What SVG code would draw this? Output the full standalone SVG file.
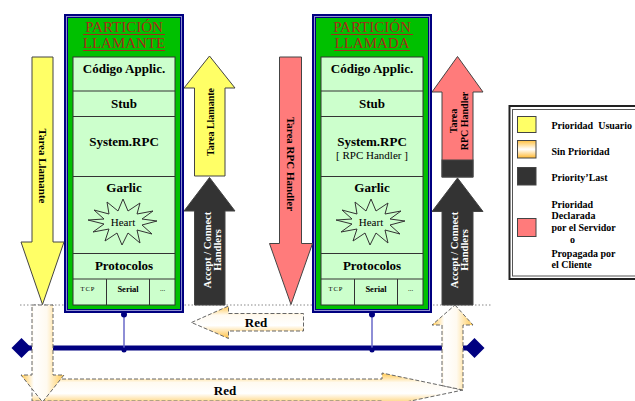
<svg xmlns="http://www.w3.org/2000/svg" width="635" height="401" viewBox="0 0 635 401" font-family="'Liberation Serif','DejaVu Serif',serif">
<style>
text{font-family:"Liberation Serif","DejaVu Serif",serif}
.t{fill:#000;text-anchor:middle}
.b{font-weight:bold}
.title{font-size:15px;fill:#a52a1a;text-anchor:middle}
.ul{stroke:#a52a1a;stroke-width:1}
.ar{stroke:#444;stroke-width:1}
.red{stroke:#666;stroke-width:1;stroke-dasharray:4 2}
.row{stroke:#333;stroke-width:1;fill:none}
.leg{font-size:10px;font-weight:bold;fill:#000}
.w{fill:#fff}
</style>
<defs>
<linearGradient id="gH" x1="0" y1="0" x2="0" y2="1">
<stop offset="0" stop-color="#ffc850"/><stop offset="0.28" stop-color="#fffaf0"/><stop offset="0.6" stop-color="#ffffff"/><stop offset="1" stop-color="#ffc040"/>
</linearGradient>
<linearGradient id="gV" x1="0" y1="0" x2="1" y2="0">
<stop offset="0" stop-color="#ffc850"/><stop offset="0.3" stop-color="#ffffff"/><stop offset="0.6" stop-color="#fffaf0"/><stop offset="1" stop-color="#ffcc58"/>
</linearGradient>
<linearGradient id="gS" x1="0" y1="0" x2="0" y2="1">
<stop offset="0" stop-color="#ffc040"/><stop offset="0.5" stop-color="#ffffff"/><stop offset="1" stop-color="#ffb830"/>
</linearGradient>
<g id="star">
<polygon points="34,-1 19,3 29,12 14,8 17,21 5,11 -1,23 -6,11 -18,19 -14,7 -30,10 -19,2 -35,-2 -19,-3 -29,-12 -14,-8 -16,-20 -5,-11 0,-23 5,-11 17,-19 14,-8 30,-11 19,-3" fill="#ccffcc" stroke="#333" stroke-width="1"/>
</g>
</defs>
<rect width="635" height="401" fill="#fff"/>

<g id="connectors">
<line x1="20" y1="305" x2="492" y2="305" stroke="#888" stroke-width="1" stroke-dasharray="1.5 2"/>
<line x1="22" y1="348" x2="474" y2="348" stroke="#000080" stroke-width="5"/>
<polygon points="11.5,348 21.5,338 31.5,348 21.5,358" fill="#000080"/>
<polygon points="464.5,348 474.5,338 484.5,348 474.5,358" fill="#000080"/>
<line x1="124" y1="314" x2="124" y2="350" stroke="#6868c8" stroke-width="1.5"/>
<circle cx="124" cy="314.5" r="3" fill="#000080"/>
<circle cx="124" cy="350" r="2.5" fill="#000080"/>
<line x1="372" y1="314" x2="372" y2="350" stroke="#6868c8" stroke-width="1.5"/>
<circle cx="372" cy="314.5" r="3" fill="#000080"/>
<circle cx="372" cy="350" r="2.5" fill="#000080"/>
</g>

<g id="partition-llamante">
<rect x="65" y="15" width="118" height="297" fill="#00c000" stroke="#000080" stroke-width="2"/>
<rect x="66.5" y="16.5" width="115" height="294" fill="none" stroke="#9090d0" stroke-width="1"/>
<rect x="67.5" y="17.5" width="113" height="292" fill="none" stroke="#000080" stroke-width="1"/>
<text class="title" x="124" y="32">PARTICIÓN</text>
<text class="title" x="124" y="48">LLAMANTE</text>
<path class="ul" d="M83,34.5H165M83,50.5H165"/>
<rect x="73" y="57" width="102" height="248" fill="#ccffcc" stroke="#333" stroke-width="1"/>
<path class="row" d="M73,91H175M73,116.5H175M73,176.5H175M73,253.5H175M73,279H175M106.5,279V305M149.5,279V305"/>
<text class="t b" x="124" y="73" font-size="13">Código Applic.</text>
<text class="t b" x="124" y="108" font-size="13">Stub</text>
<text class="t b" x="124" y="146" font-size="13">System.RPC</text>
<text class="t b" x="124" y="192" font-size="13">Garlic</text>
<use href="#star" x="123" y="222"/>
<text class="t" x="123" y="226" font-size="11">Heart</text>
<text class="t b" x="124" y="270" font-size="13">Protocolos</text>
<text class="t" x="88" y="291" font-size="6.5" letter-spacing="1">TCP</text>
<text class="t b" x="128" y="292" font-size="8.5">Serial</text>
<text class="t" x="162.5" y="291" font-size="7">...</text>
</g>

<g id="partition-llamada">
<rect x="313" y="15" width="118" height="297" fill="#00c000" stroke="#000080" stroke-width="2"/>
<rect x="314.5" y="16.5" width="115" height="294" fill="none" stroke="#9090d0" stroke-width="1"/>
<rect x="315.5" y="17.5" width="113" height="292" fill="none" stroke="#000080" stroke-width="1"/>
<text class="title" x="372" y="32">PARTICIÓN</text>
<text class="title" x="372" y="48">LLAMADA</text>
<path class="ul" d="M331,34.5H413M334,50.5H410"/>
<rect x="321" y="57" width="102" height="248" fill="#ccffcc" stroke="#333" stroke-width="1"/>
<path class="row" d="M321,91H423M321,116.5H423M321,176.5H423M321,253.5H423M321,279H423M354.5,279V305M397.5,279V305"/>
<text class="t b" x="372" y="73" font-size="13">Código Applic.</text>
<text class="t b" x="372" y="108" font-size="13">Stub</text>
<text class="t b" x="372" y="146" font-size="13">System.RPC</text>
<text class="t" x="372" y="159" font-size="11">[ RPC Handler ]</text>
<text class="t b" x="372" y="192" font-size="13">Garlic</text>
<use href="#star" x="371" y="222"/>
<text class="t" x="371" y="226" font-size="11">Heart</text>
<text class="t b" x="372" y="270" font-size="13">Protocolos</text>
<text class="t" x="336" y="291" font-size="6.5" letter-spacing="1">TCP</text>
<text class="t b" x="376" y="292" font-size="8.5">Serial</text>
<text class="t" x="410.5" y="291" font-size="7">...</text>
</g>

<g id="arrow-tarea-llamante-down">
<path class="ar" d="M32,57H53V242H64L42.5,304.5L21,242H32Z" fill="#ffff66"/>
<text class="t b" font-size="11" transform="translate(42.5,166) rotate(90)" y="4">Tarea Llamante</text>
</g>

<g id="arrow-tarea-llamante-up">
<path class="ar" d="M209.5,56L235,88H225V176H194.5V88H184Z" fill="#ffff66"/>
<text class="t b" font-size="10" transform="translate(209.5,122) rotate(-90)" y="4">Tarea Llamante</text>
</g>

<g id="arrow-accept-connect-left">
<path class="ar" d="M209.5,177.5L235,211H225V305H194.5V211H184Z" fill="#333"/>
<text class="t b w" font-size="10.5" transform="translate(209.5,250) rotate(-90)" y="1">Accept / Connect</text>
<text class="t b w" font-size="10.5" transform="translate(209.5,250) rotate(-90)" y="11.5">Handlers</text>
</g>

<g id="arrow-tarea-rpc-down">
<path class="ar" d="M279.5,57H301.5V243.5H312.5L291,304.5L269.5,243.5H279.5Z" fill="#ff7b7b"/>
<text class="t b" font-size="11" transform="translate(290.5,164) rotate(90)" y="4">Tarea RPC Handler</text>
</g>

<g id="arrow-tarea-rpc-up">
<path class="ar" d="M457.5,56.5L483,92H473V177H442V92H432Z" fill="#ff7b7b"/>
<rect x="442" y="160" width="31" height="17" fill="#333" stroke="#444" stroke-width="1"/>
<text class="t b" font-size="10" transform="translate(457.5,121) rotate(-90)" y="-1">Tarea</text>
<text class="t b" font-size="10" transform="translate(457.5,121) rotate(-90)" y="10">RPC Handler</text>
</g>

<g id="arrow-accept-connect-right">
<path class="ar" d="M457.5,178L483,211.5H473V305H442V211.5H432Z" fill="#333"/>
<text class="t b w" font-size="10.5" transform="translate(457.5,250) rotate(-90)" y="0">Accept / Connect</text>
<text class="t b w" font-size="10.5" transform="translate(457.5,250) rotate(-90)" y="10.5">Handlers</text>
</g>

<g id="red-small">
<path class="red" d="M191.5,322.5L228.5,306V313.5H303.5V331H228.5V338.5Z" fill="url(#gH)"/>
<text class="t b" x="256" y="327" font-size="13">Red</text>
</g>

<g id="red-large">
<path class="red" d="M32,379H382V373L463,390L382,407V401H32Z" fill="url(#gH)"/>
<path class="red" d="M455,305L473,325H463V390L442,385.6V325H432Z" fill="url(#gV)"/>
<path class="red" d="M32,305H53V375H64L42.5,402L21,375H32Z" fill="url(#gV)"/>
<text class="t b" x="225" y="395" font-size="13">Red</text>
</g>

<g id="legend">
<rect x="509.5" y="106" width="140" height="173" fill="#fff" stroke="#222" stroke-width="2"/>
<rect x="512.5" y="109.5" width="134" height="166.5" fill="none" stroke="#555" stroke-width="1"/>
<rect x="517.5" y="116.5" width="18.5" height="16" fill="#ffff66" stroke="#444" stroke-width="1"/>
<rect x="517.5" y="140.5" width="18.5" height="17.5" fill="url(#gS)" stroke="#444" stroke-width="1"/>
<rect x="517.5" y="167.5" width="18.5" height="17.5" fill="#333" stroke="#444" stroke-width="1"/>
<rect x="517.5" y="218.5" width="18.5" height="18" fill="#ff7b7b" stroke="#444" stroke-width="1"/>
<text class="leg" x="551.5" y="129" xml:space="preserve">Prioridad  Usuario</text>
<text class="leg" x="551.5" y="155">Sin Prioridad</text>
<text class="leg" x="551.5" y="180.5">Priority’Last</text>
<text class="leg" x="551.5" y="207.5">Prioridad</text>
<text class="leg" x="551.5" y="219">Declarada</text>
<text class="leg" x="551.5" y="230.5">por el Servidor</text>
<text class="leg" x="572.5" y="243" text-anchor="middle">o</text>
<text class="leg" x="551.5" y="256.5">Propagada por</text>
<text class="leg" x="551.5" y="267.5">el Cliente</text>
</g>
</svg>
